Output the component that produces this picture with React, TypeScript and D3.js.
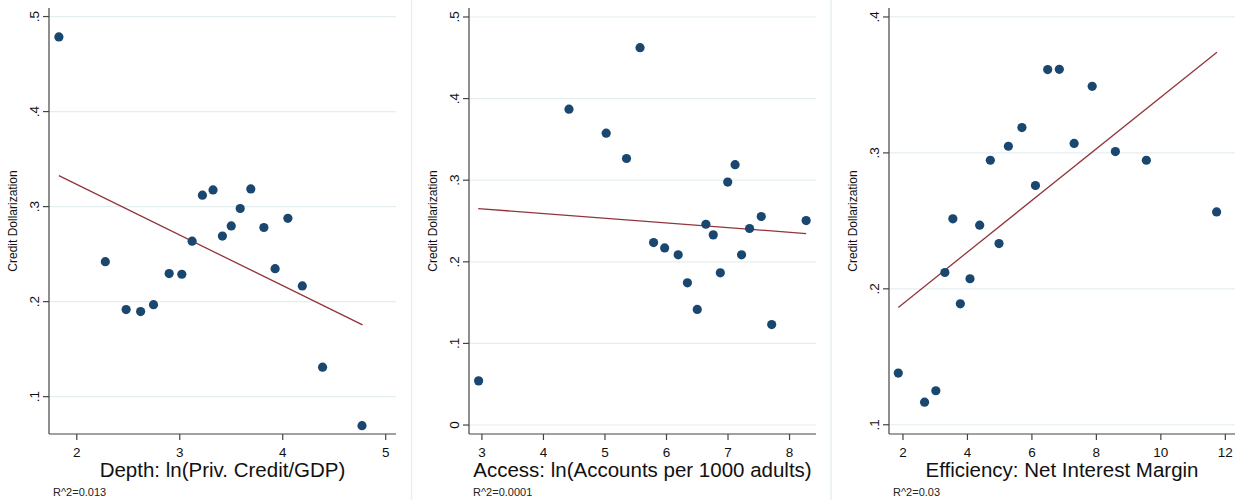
import * as d3 from "d3";

// Depth panel
const depthX = [1.826, 2.277, 2.479, 2.62, 2.745, 2.897, 3.02, 3.12, 3.22, 3.323, 3.414, 3.5, 3.587, 3.69, 3.817, 3.926, 4.05, 4.19, 4.387, 4.77];
const depthY = [0.4786, 0.242, 0.1916, 0.1895, 0.1968, 0.2295, 0.2288, 0.2636, 0.312, 0.3176, 0.269, 0.2797, 0.298, 0.3186, 0.278, 0.2347, 0.2877, 0.2165, 0.131, 0.0695];
const depthFitX = [1.826, 4.775];
const depthFitY = [0.3326, 0.1755];

// Access panel
const accessX = [2.946, 4.415, 5.02, 5.35, 5.57, 5.79, 5.97, 6.19, 6.34, 6.5, 6.64, 6.76, 6.875, 6.995, 7.115, 7.22, 7.35, 7.54, 7.71, 8.27];
const accessY = [0.0541, 0.387, 0.3576, 0.3266, 0.4624, 0.2236, 0.217, 0.2086, 0.1743, 0.1416, 0.246, 0.233, 0.1865, 0.2977, 0.319, 0.2086, 0.2408, 0.2555, 0.1231, 0.2505];
const accessFitX = [2.94, 8.27];
const accessFitY = [0.2652, 0.2346];

// Efficiency panel
const effX = [1.855, 2.67, 3.02, 3.3, 3.548, 3.78, 4.08, 4.38, 4.71, 4.98, 5.27, 5.69, 6.11, 6.49, 6.85, 7.31, 7.87, 8.59, 9.55, 11.73];
const effY = [0.138, 0.1166, 0.125, 0.212, 0.2515, 0.189, 0.2074, 0.2468, 0.2946, 0.2333, 0.3049, 0.3186, 0.276, 0.3613, 0.3615, 0.307, 0.349, 0.301, 0.2946, 0.2566];
const effFitX = [1.855, 11.74];
const effFitY = [0.1863, 0.374];

const depthXTicks = [2, 3, 4, 5];
const depthYTicks = [0.1, 0.2, 0.3, 0.4, 0.5];
const accessXTicks = [3, 4, 5, 6, 7, 8];
const accessYTicks = [0, 0.1, 0.2, 0.3, 0.4, 0.5];
const effXTicks = [2, 4, 6, 8, 10, 12];
const effYTicks = [0.1, 0.2, 0.3, 0.4];

const titles = ["Depth: ln(Priv. Credit/GDP)", "Access: ln(Accounts per 1000 adults)", "Efficiency: Net Interest Margin"];
const notes = ["R^2=0.013", "R^2=0.0001", "R^2=0.03"];

const W = 1239;
const H = 500;
const top = 8;
const bottom = 434;

const navy = "#1a476f";
const maroon = "#90353b";
const grid = "#e4eef1";
const axisCol = "#444";
const font = "'Liberation Sans', Arial, sans-serif";

const yLabel = (v: number) => (v === 0 ? "0" : d3.format(".1f")(v).replace(/^0/, ""));

const panels = [
  { left: 49, right: 396, xd: [1.73, 5.1], yd: [0.0607, 0.509], xs: depthX, ys: depthY, fx: depthFitX, fy: depthFitY, xt: depthXTicks, yt: depthYTicks },
  { left: 469, right: 816, xd: [2.79, 8.43], yd: [-0.011, 0.511], xs: accessX, ys: accessY, fx: accessFitX, fy: accessFitY, xt: accessXTicks, yt: accessYTicks },
  { left: 889, right: 1235, xd: [1.567, 12.3], yd: [0.0932, 0.4066], xs: effX, ys: effY, fx: effFitX, fy: effFitY, xt: effXTicks, yt: effYTicks },
];

function Panel({ p, i }: { p: (typeof panels)[number]; i: number }) {
  const x = d3.scaleLinear().domain(p.xd).range([p.left, p.right]);
  const y = d3.scaleLinear().domain(p.yd).range([bottom, top]);
  const line = d3.line<number>().x((d) => x(p.fx[d])).y((d) => y(p.fy[d]));
  const mid = (p.left + p.right) / 2;
  return (
    <g>
      {p.yt.map((t) => (
        <line key={"g" + t} x1={p.left} x2={p.right} y1={y(t)} y2={y(t)} stroke={grid} strokeWidth={1.2} />
      ))}
      <line x1={p.left} x2={p.left} y1={top} y2={bottom} stroke={axisCol} strokeWidth={1.2} />
      <line x1={p.left} x2={p.right} y1={bottom} y2={bottom} stroke={axisCol} strokeWidth={1.2} />
      {p.yt.map((t) => (
        <g key={"y" + t}>
          <line x1={p.left - 6} x2={p.left} y1={y(t)} y2={y(t)} stroke={axisCol} strokeWidth={1.2} />
          <text transform={`translate(${p.left - 10},${y(t)}) rotate(-90)`} textAnchor="middle" fontSize={13.5} fontFamily={font} fill="#111">
            {yLabel(t)}
          </text>
        </g>
      ))}
      {p.xt.map((t) => (
        <g key={"x" + t}>
          <line x1={x(t)} x2={x(t)} y1={bottom} y2={bottom + 6} stroke={axisCol} strokeWidth={1.2} />
          <text x={x(t)} y={bottom + 23} textAnchor="middle" fontSize={13.5} fontFamily={font} fill="#111">
            {t}
          </text>
        </g>
      ))}
      <text transform={`translate(${p.left - 32},${(top + bottom) / 2}) rotate(-90)`} textAnchor="middle" fontSize={12} fontFamily={font} fill="#111">
        Credit Dollarization
      </text>
      <text x={mid} y={bottom + 43} textAnchor="middle" fontSize={20.5} fontFamily={font} fill="#111">
        {titles[i]}
      </text>
      <text x={p.left + 4} y={bottom + 62} fontSize={11} fontFamily={font} fill="#222">
        {notes[i]}
      </text>
      <path d={line([0, 1]) ?? ""} stroke={maroon} strokeWidth={1.3} fill="none" />
      {p.xs.map((v, k) => (
        <circle key={k} cx={x(v)} cy={y(p.ys[k])} r={4.6} fill={navy} />
      ))}
    </g>
  );
}

export default function App() {
  return (
    <div style={{ position: "fixed", left: 0, top: 0 }}>
      <svg width={W} height={H} style={{ display: "block", background: "#fff" }}>
        <line x1={411.5} x2={411.5} y1={0} y2={H} stroke="#e6f0f2" strokeWidth={1.5} />
        <line x1={831} x2={831} y1={0} y2={H} stroke="#e6f0f2" strokeWidth={1.5} />
        {panels.map((p, i) => (
          <Panel key={i} p={p} i={i} />
        ))}
      </svg>
    </div>
  );
}
